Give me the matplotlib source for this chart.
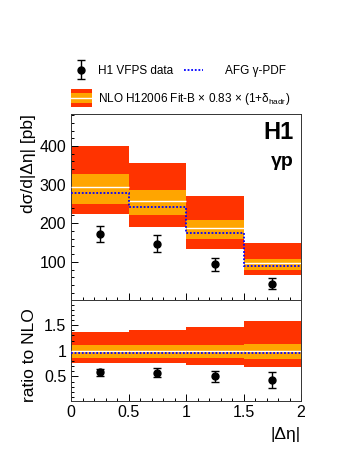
import numpy as np
import matplotlib
matplotlib.use('Agg')
import matplotlib.pyplot as plt
from matplotlib.patches import Rectangle
from matplotlib.lines import Line2D
from matplotlib.ticker import FixedLocator, MultipleLocator, FormatStrFormatter
from matplotlib.legend_handler import HandlerErrorbar

plt.rcParams['font.family'] = ['Liberation Sans', 'DejaVu Sans']
plt.rcParams['mathtext.fontset'] = 'custom'
plt.rcParams['mathtext.rm'] = 'Liberation Sans'

RED = '#ff3300'
ORANGE = '#ffa500'
BLUE = '#0000ff'

# bins in |delta eta|
edges = [0, 0.5, 1.0, 1.5, 2.0]
centers = [0.25, 0.75, 1.25, 1.75]

# H1 VFPS data [pb]
data_y = [172, 147, 94, 43]
data_err = [20, 22, 17, 14]

# NLO prediction: central value, scale band (orange), total band (red)
nlo_central = [295, 257, 188, 97]
nlo_tot_lo = [225, 190, 134, 65]
nlo_tot_hi = [400, 356, 271, 149]
nlo_scl_lo = [251, 220, 159, 80]
nlo_scl_hi = [328, 287, 209, 108]
afg = [278, 241, 174, 90]

# ratio to NLO panel
ratio_data = [0.58, 0.57, 0.50, 0.43]
ratio_err = [0.07, 0.085, 0.10, 0.15]
ratio_tot_lo = [0.77, 0.76, 0.72, 0.68]
ratio_tot_hi = [1.37, 1.40, 1.46, 1.58]
ratio_scl_lo = [0.86, 0.86, 0.85, 0.84]
ratio_scl_hi = [1.12, 1.12, 1.12, 1.13]
ratio_central = [1.0, 1.0, 1.0, 1.0]
ratio_afg = [0.95, 0.95, 0.95, 0.95]


class BandHandler:
    def legend_artist(self, legend, orig_handle, fontsize, handlebox):
        x0, y0 = -handlebox.xdescent, -handlebox.ydescent
        w, h = handlebox.width, handlebox.height
        tr = handlebox.get_transform()
        red = Rectangle((x0, y0), w, h, facecolor=RED, edgecolor='none', transform=tr)
        orng = Rectangle((x0, y0 + 0.21 * h), w, 0.58 * h, facecolor=ORANGE,
                         edgecolor='none', transform=tr)
        wl = Line2D([x0, x0 + w], [y0 + 0.48 * h] * 2, color='white', lw=1, transform=tr)
        for a in (red, orng, wl):
            handlebox.add_artist(a)
        return red


def draw_bands(ax, tlo, thi, slo, shi, cen, af):
    tlo, thi, slo, shi = map(np.array, (tlo, thi, slo, shi))
    ax.bar(centers, thi - tlo, bottom=tlo, width=0.5, color=RED, edgecolor='none', zorder=1)
    ax.bar(centers, shi - slo, bottom=slo, width=0.5, color=ORANGE, edgecolor='none', zorder=2)
    ax.hlines(cen, edges[:-1], edges[1:], color='white', lw=1, zorder=3)
    ax.stairs(af, edges, baseline=None, color=BLUE, linestyle=(0, (1, 1)), lw=1.3, zorder=4)


def style(ax):
    ax.tick_params(which='both', direction='in', top=False, right=False, labelsize=11.5)
    ax.tick_params(which='major', length=5, width=0.7)
    ax.tick_params(which='minor', length=2.5, width=0.7)
    ax.xaxis.set_minor_locator(MultipleLocator(0.1))
    ax.xaxis.set_major_locator(FixedLocator([0, 0.5, 1, 1.5, 2]))
    ax.xaxis.set_major_formatter(FormatStrFormatter('%g'))
    ax.yaxis.set_major_formatter(FormatStrFormatter('%g'))
    for s in ax.spines.values():
        s.set_linewidth(0.7)
        s.set_color('#333333')


W, H = 349, 451
fig = plt.figure(figsize=(W / 100, H / 100), dpi=100)
ax1 = fig.add_axes([71 / W, 1 - 300 / H, 230 / W, 186 / H])
ax2 = fig.add_axes([71 / W, 1 - 401 / H, 230 / W, 101 / H])

# upper panel
draw_bands(ax1, nlo_tot_lo, nlo_tot_hi, nlo_scl_lo, nlo_scl_hi, nlo_central, afg)
eb = ax1.errorbar(centers, data_y, yerr=data_err, fmt='o', color='black', ms=5,
                  capsize=3.2, elinewidth=1, capthick=1, zorder=5)
ax1.set_xlim(0, 2)
ax1.set_ylim(1, 483)
style(ax1)
ax1.yaxis.set_major_locator(FixedLocator([100, 200, 300, 400]))
ax1.yaxis.set_minor_locator(MultipleLocator(20))
ax1.tick_params(labelbottom=False)
ax1.set_ylabel('dσ/d|Δη| [pb]', fontsize=12.5, loc='top')
ax1.yaxis.set_label_coords(-0.152, 1.0)
ax1.text(0.97, 0.962, 'H1', transform=ax1.transAxes, ha='right', va='top',
         fontsize=17, fontweight='bold')
ax1.text(0.97, 0.722, 'γp', transform=ax1.transAxes, ha='right', va='baseline',
         fontsize=14, fontweight='bold')

# lower panel
draw_bands(ax2, ratio_tot_lo, ratio_tot_hi, ratio_scl_lo, ratio_scl_hi, ratio_central, ratio_afg)
ax2.errorbar(centers, ratio_data, yerr=ratio_err, fmt='o', color='black', ms=5,
             capsize=3.2, elinewidth=1, capthick=1, zorder=5)
ax2.set_xlim(0, 2)
ax2.set_ylim(0.02, 1.99)
style(ax2)
ax2.yaxis.set_major_locator(FixedLocator([0.5, 1, 1.5]))
ax2.yaxis.set_minor_locator(MultipleLocator(0.1))
ax2.tick_params(axis='x', pad=3)
ax2.set_ylabel('ratio to NLO', fontsize=12.5)
ax2.yaxis.set_label_coords(-0.148, 0.45)
ax2.set_xlabel('|Δη|', fontsize=12.5, loc='right', labelpad=5)

# legends above the plot
fs = 8.5
pxf = fs * 100 / 72
leg1 = fig.legend([eb], ['H1 VFPS data'], loc='center left',
                  bbox_to_anchor=(71.5 / W, 1 - 70.7 / H), frameon=False, fontsize=fs,
                  borderpad=0, borderaxespad=0, numpoints=1,
                  handlelength=19 / pxf, handletextpad=7.5 / pxf,
                  handler_map={type(eb): HandlerErrorbar(xerr_size=0.5, yerr_size=0.8)})
afg_h = Line2D([], [], color=BLUE, linestyle=(0, (1, 1)), lw=1.3)
leg2 = fig.legend([afg_h], ['AFG γ-PDF'], loc='center left',
                  bbox_to_anchor=(184 / W, 1 - 70.7 / H), frameon=False, fontsize=fs,
                  borderpad=0, borderaxespad=0,
                  handlelength=19 / pxf, handletextpad=22 / pxf)
band_h = Rectangle((0, 0), 1, 1)
leg3 = fig.legend([band_h], ['NLO H12006 Fit-B × 0.83 × (1+δ$_{\\mathrm{hadr}}$)'],
                  loc='center left', bbox_to_anchor=(71 / W, 1 - 98 / H), frameon=False,
                  fontsize=fs, borderpad=0, borderaxespad=0,
                  handlelength=21 / pxf, handleheight=22 / pxf, handletextpad=6 / pxf,
                  handler_map={Rectangle: BandHandler()})

fig.savefig('out.png', dpi=100)
